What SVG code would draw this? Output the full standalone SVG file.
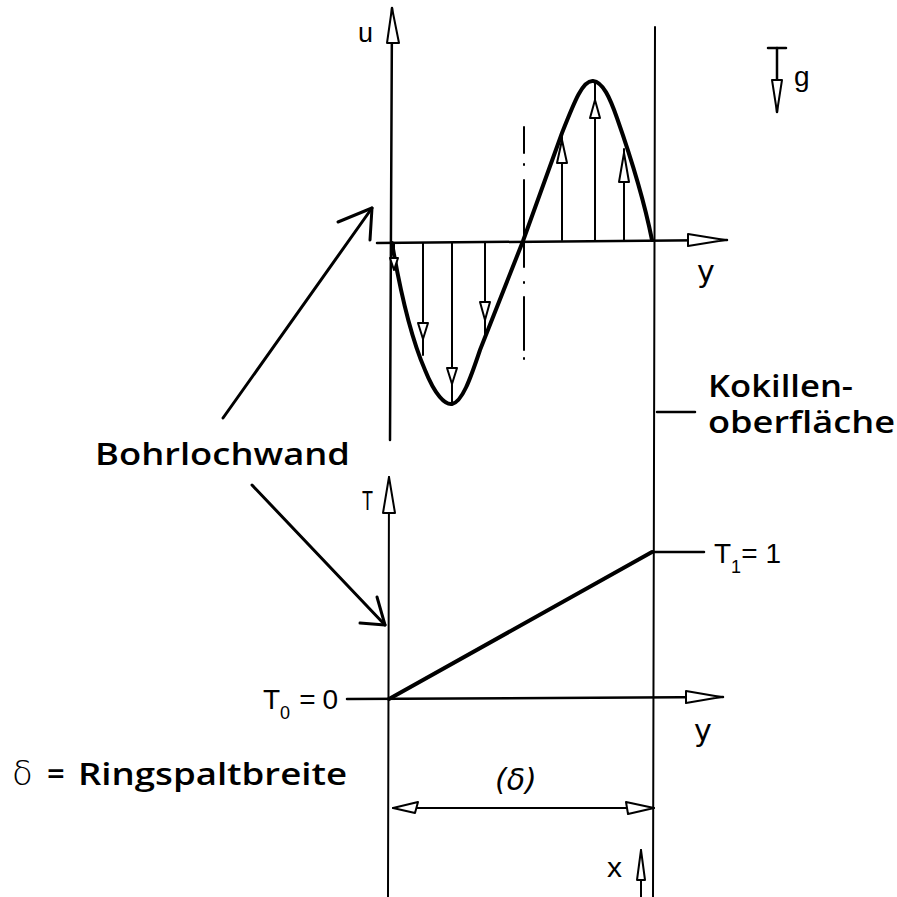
<svg xmlns="http://www.w3.org/2000/svg" width="897" height="897" viewBox="0 0 897 897">
<style>
.ln{stroke:#000;fill:none;stroke-linecap:round;stroke-linejoin:round}
.ax{stroke-width:2.5}
.thin{stroke-width:2}
.crv{stroke-width:4}
.hd{fill:#fff;stroke:#000;stroke-width:2;stroke-linejoin:round}
.lbl{font-family:"Open Sans","Liberation Sans",sans-serif;font-weight:600;font-size:31px;fill:#000}
.sym{font-family:"Liberation Sans","DejaVu Sans",sans-serif;font-size:28px;fill:#000}
.hw{font-family:"DejaVu Sans",sans-serif;font-size:30px;fill:#000}
</style>
<rect width="897" height="897" fill="#fff"/>

<g id="upper-axes">
  <line class="ln ax" x1="392" y1="8" x2="390" y2="440"/>
  <polygon class="hd" points="392,8 387,43 399,43"/>
  <line class="ln ax" x1="377" y1="243" x2="727" y2="240"/>
  <polygon class="hd" points="688,234 725,240 688,246"/>
  <text class="sym" x="358" y="42" textLength="15" lengthAdjust="spacingAndGlyphs">u</text>
  <text class="hw" x="697" y="282">y</text>
</g>

<g id="walls">
  <line class="ln thin" x1="655" y1="27" x2="653" y2="897"/>
  <g id="dashdot" class="ln thin">
    <line x1="524" y1="127" x2="524" y2="153"/>
    <line x1="524" y1="164" x2="524" y2="165"/>
    <line x1="524" y1="180" x2="524" y2="267"/>
    <line x1="524" y1="282" x2="524" y2="283"/>
    <line x1="524" y1="297" x2="524" y2="350"/>
    <line x1="524" y1="358" x2="524" y2="359"/>
  </g>
</g>

<g id="velocity-profile">
  <path class="ln crv" d="M392,243 C400,290 412,340 425,370 C435,395 445,405 452,404 C462,402 470,380 480,350 L523,241 L562,133 C575,100 583,80 593,81 C603,82 610,98 617,118 C630,155 645,205 652,240"/>
  <g class="ln thin">
    <line x1="394" y1="243" x2="394" y2="262"/>
    <line x1="423" y1="243" x2="423" y2="355"/>
    <line x1="452" y1="243" x2="452" y2="403"/>
    <line x1="485" y1="243" x2="485" y2="334"/>
    <line x1="562" y1="240" x2="562" y2="136"/>
    <line x1="595" y1="240" x2="595" y2="83"/>
    <line x1="624" y1="240" x2="624" y2="149"/>
  </g>
  <polygon class="hd" points="390,258 398,258 394,270"/>
  <polygon class="hd" points="418,323 428,323 423,339"/>
  <polygon class="hd" points="447,368 457,368 452,384"/>
  <polygon class="hd" points="480,302 490,302 485,320"/>
  <polygon class="hd" points="562,140 557,163 567,163"/>
  <polygon class="hd" points="595,100 590,118 600,118"/>
  <polygon class="hd" points="624,153 619,182 629,182"/>
</g>

<g id="gravity">
  <line class="ln ax" x1="768" y1="48" x2="786" y2="48"/>
  <line class="ln ax" x1="777" y1="48" x2="777" y2="112"/>
  <polygon class="hd" points="772,80 782,80 777,112"/>
  <text class="sym" x="794" y="86" font-size="30">g</text>
</g>

<g id="bohrlochwand">
  <text class="lbl" x="95" y="465" textLength="255" lengthAdjust="spacingAndGlyphs">Bohrlochwand</text>
  <g class="ln" stroke-width="3">
    <line x1="223" y1="418" x2="372" y2="208"/>
    <polyline points="338,222 372,208 370,240"/>
    <line x1="252" y1="485" x2="385" y2="625"/>
    <polyline points="377,597 385,625 360,623"/>
  </g>
</g>

<g id="kokillen">
  <line class="ln ax" x1="657" y1="412" x2="695" y2="412"/>
  <text class="lbl" x="708" y="397" textLength="145" lengthAdjust="spacingAndGlyphs">Kokillen-</text>
  <text class="lbl" x="708" y="433" textLength="187" lengthAdjust="spacingAndGlyphs">oberfläche</text>
</g>

<g id="lower-axes">
  <line class="ln thin" x1="389" y1="477" x2="388" y2="897"/>
  <polygon class="hd" points="389,477 383,513 395,513"/>
  <text class="sym" x="362" y="510" textLength="11" lengthAdjust="spacingAndGlyphs">T</text>
  <line class="ln ax" x1="347" y1="699" x2="723" y2="697"/>
  <polygon class="hd" points="686,691 721,697 686,703"/>
  <text class="hw" x="694" y="741">y</text>
</g>

<g id="temperature">
  <line class="ln crv" x1="389" y1="699" x2="652" y2="552"/>
  <line class="ln ax" x1="652" y1="552" x2="704" y2="552"/>
  <text class="sym" x="714" y="563">T<tspan font-size="18" dy="10">1</tspan><tspan dy="-10">=</tspan><tspan dx="8">1</tspan></text>
  <text class="sym" x="263" y="709">T<tspan font-size="18" dy="10">0</tspan><tspan dy="-10" dx="9">=</tspan><tspan dx="7">0</tspan></text>
</g>

<g id="width">
  <text x="12" y="785" font-family="DejaVu Sans, sans-serif" font-size="34" font-weight="300">δ</text>
  <text class="lbl" x="47" y="785">=</text>
  <text class="lbl" x="78" y="785" textLength="269" lengthAdjust="spacingAndGlyphs">Ringspaltbreite</text>
  <text class="hw" x="495" y="790" font-style="italic" font-weight="300">(δ)</text>
  <line class="ln thin" x1="393" y1="808" x2="654" y2="808"/>
  <polygon class="hd" points="393,808 418,802 415,813"/>
  <polygon class="hd" points="654,808 626,802 628,814"/>
  <text class="sym" x="607" y="877" font-size="30" textLength="15" lengthAdjust="spacingAndGlyphs">x</text>
  <line class="ln thin" x1="641" y1="897" x2="641" y2="850"/>
  <polygon class="hd" points="641,850 637,880 645,880"/>
</g>
</svg>
